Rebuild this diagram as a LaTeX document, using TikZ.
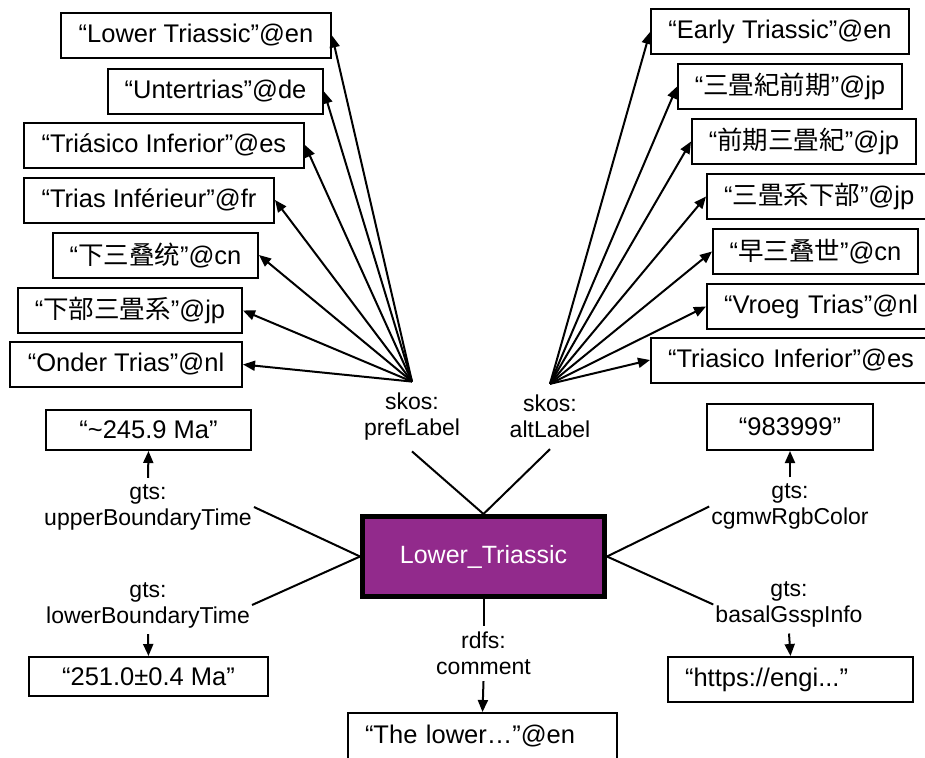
\documentclass[tikz,border=0pt]{standalone}
\usepackage{fontspec}
\setmainfont{Liberation Sans}
\newfontfamily\jpfont{Noto Sans CJK JP}
\newfontfamily\cnfont{Noto Sans CJK SC}
\usetikzlibrary{arrows.meta}
\definecolor{epoch}{RGB}{146,42,140}

\begin{document}
\begin{tikzpicture}[x=1pt,y=-1pt,
  lit/.style={draw, line width=2pt, inner sep=0pt, minimum height=45,
    font=\fontsize{25.5}{30}\selectfont},
  litl/.style={lit, align=left, inner xsep=17pt, text width=#1},
  prop/.style={align=center, inner xsep=2pt, inner ysep=6pt,
    font=\fontsize{23}{26}\selectfont},
  hubprop/.style={prop, inner ysep=11pt},
  concept/.style={draw, line width=5pt, fill=epoch, text=white, inner sep=0pt,
    minimum width=242, minimum height=80, font=\fontsize{25}{30}\selectfont},
  rel/.style={line width=2pt},
  arr/.style={line width=2pt, -{Triangle[length=12pt,width=10pt]}}]
\useasboundingbox (0,0) rectangle (925,757);

% central resource
\node[concept] (main) at (483.5,556.5) {Lower\_Triassic};

% preferred labels
\node[lit, minimum width=270] (l1) at (196,35.5) {“Lower Triassic”@en};
\node[lit, minimum width=215] (l2) at (215.5,91.5) {“Untertrias”@de};
\node[lit, minimum width=280] (l3) at (164,145) {“Triásico Inferior”@es};
\node[lit, minimum width=250] (l4) at (149,200) {“Trias Inférieur”@fr};
\node[lit, minimum width=205] (l5) at (155.5,255) {“{\cnfont 下三叠统}”@cn};
\node[lit, minimum width=224] (l6) at (130,310.5) {“{\jpfont 下部三畳系}”@jp};
\node[lit, minimum width=232] (l7) at (126,364.5) {“Onder Trias”@nl};

% alternative labels (the last ones run past the right edge)
\node[lit, minimum width=258] (r1) at (780,32) {“Early Triassic”@en};
\node[lit, minimum width=224] (r2) at (790,86.5) {“{\jpfont 三畳紀前期}”@jp};
\node[lit, minimum width=224] (r3) at (804,141.5) {“{\jpfont 前期三畳紀}”@jp};
\node[litl=230, anchor=west] (r4) at (706,196.5) {“{\jpfont 三畳系下部}”@jp};
\node[lit, minimum width=205] (r5) at (815.5,251.5) {“{\cnfont 早三叠世}”@cn};
\node[litl=230, anchor=west] (r6) at (706,306.5) {“Vroeg Trias”@nl};
\node[litl=280, anchor=west] (r7) at (650,360) {“Triasico Inferior”@es};

% property labels
\node[hubprop] (pref) at (412,416.5) {skos:\\prefLabel};
\node[hubprop] (alt) at (550,416.5) {skos:\\altLabel};
\node[prop] (ubt) at (148,507) {gts:\\upperBoundaryTime};
\node[prop] (lbt) at (148,605) {gts:\\lowerBoundaryTime};
\node[prop] (rgb) at (790,506.5) {gts:\\cgmwRgbColor};
\node[prop] (gssp) at (789,604.5) {gts:\\basalGsspInfo};
\node[prop] (cmt) at (483.5,653.5) {rdfs:\\comment};

% literal values (the comment box runs past the bottom edge)
\node[lit, minimum width=205, minimum height=40] (ubv) at (148.5,430) {“\char`\~245.9 Ma”};
\node[lit, minimum width=239, minimum height=39] (lbv) at (148.5,676.5) {“251.0±0.4 Ma”};
\node[lit, minimum width=166, minimum height=46] (rgbv) at (790,427) {“983999”};
\node[litl=211, minimum height=45] (gsspv) at (790.5,679.5) {“https://engi...”};
\node[litl=235, minimum height=55, text depth=13pt, anchor=north] (cmtv) at (482.5,712) {“The lower…”@en};

% fans of labels
\foreach \n in {l1,l2,l3,l4,l5,l6,l7}
  \draw[arr] (pref.north) -- (\n.east);
\foreach \n in {r1,r2,r3,r4,r5,r6,r7}
  \draw[arr] (alt.north) -- (\n.west);

% properties attached to the resource
\draw[rel] (main.north) -- (pref.south);
\draw[rel] (main.north) -- (alt.south);
\draw[rel] (main.west) -- (ubt.east);
\draw[rel] (main.west) -- (lbt.east);
\draw[rel] (main.east) -- (rgb.west);
\draw[rel] (main.east) -- (gssp.west);
\draw[rel] (main.south) -- (cmt.north);

% property values
\draw[arr] (ubt.north) -- (ubv.south);
\draw[arr] (lbt.south) -- (lbv.north);
\draw[arr] (rgb.north) -- (rgbv.south);
\draw[arr] (gssp.south) -- (gsspv.north);
\draw[arr] (cmt.south) -- (cmtv.north);
\end{tikzpicture}
\end{document}
